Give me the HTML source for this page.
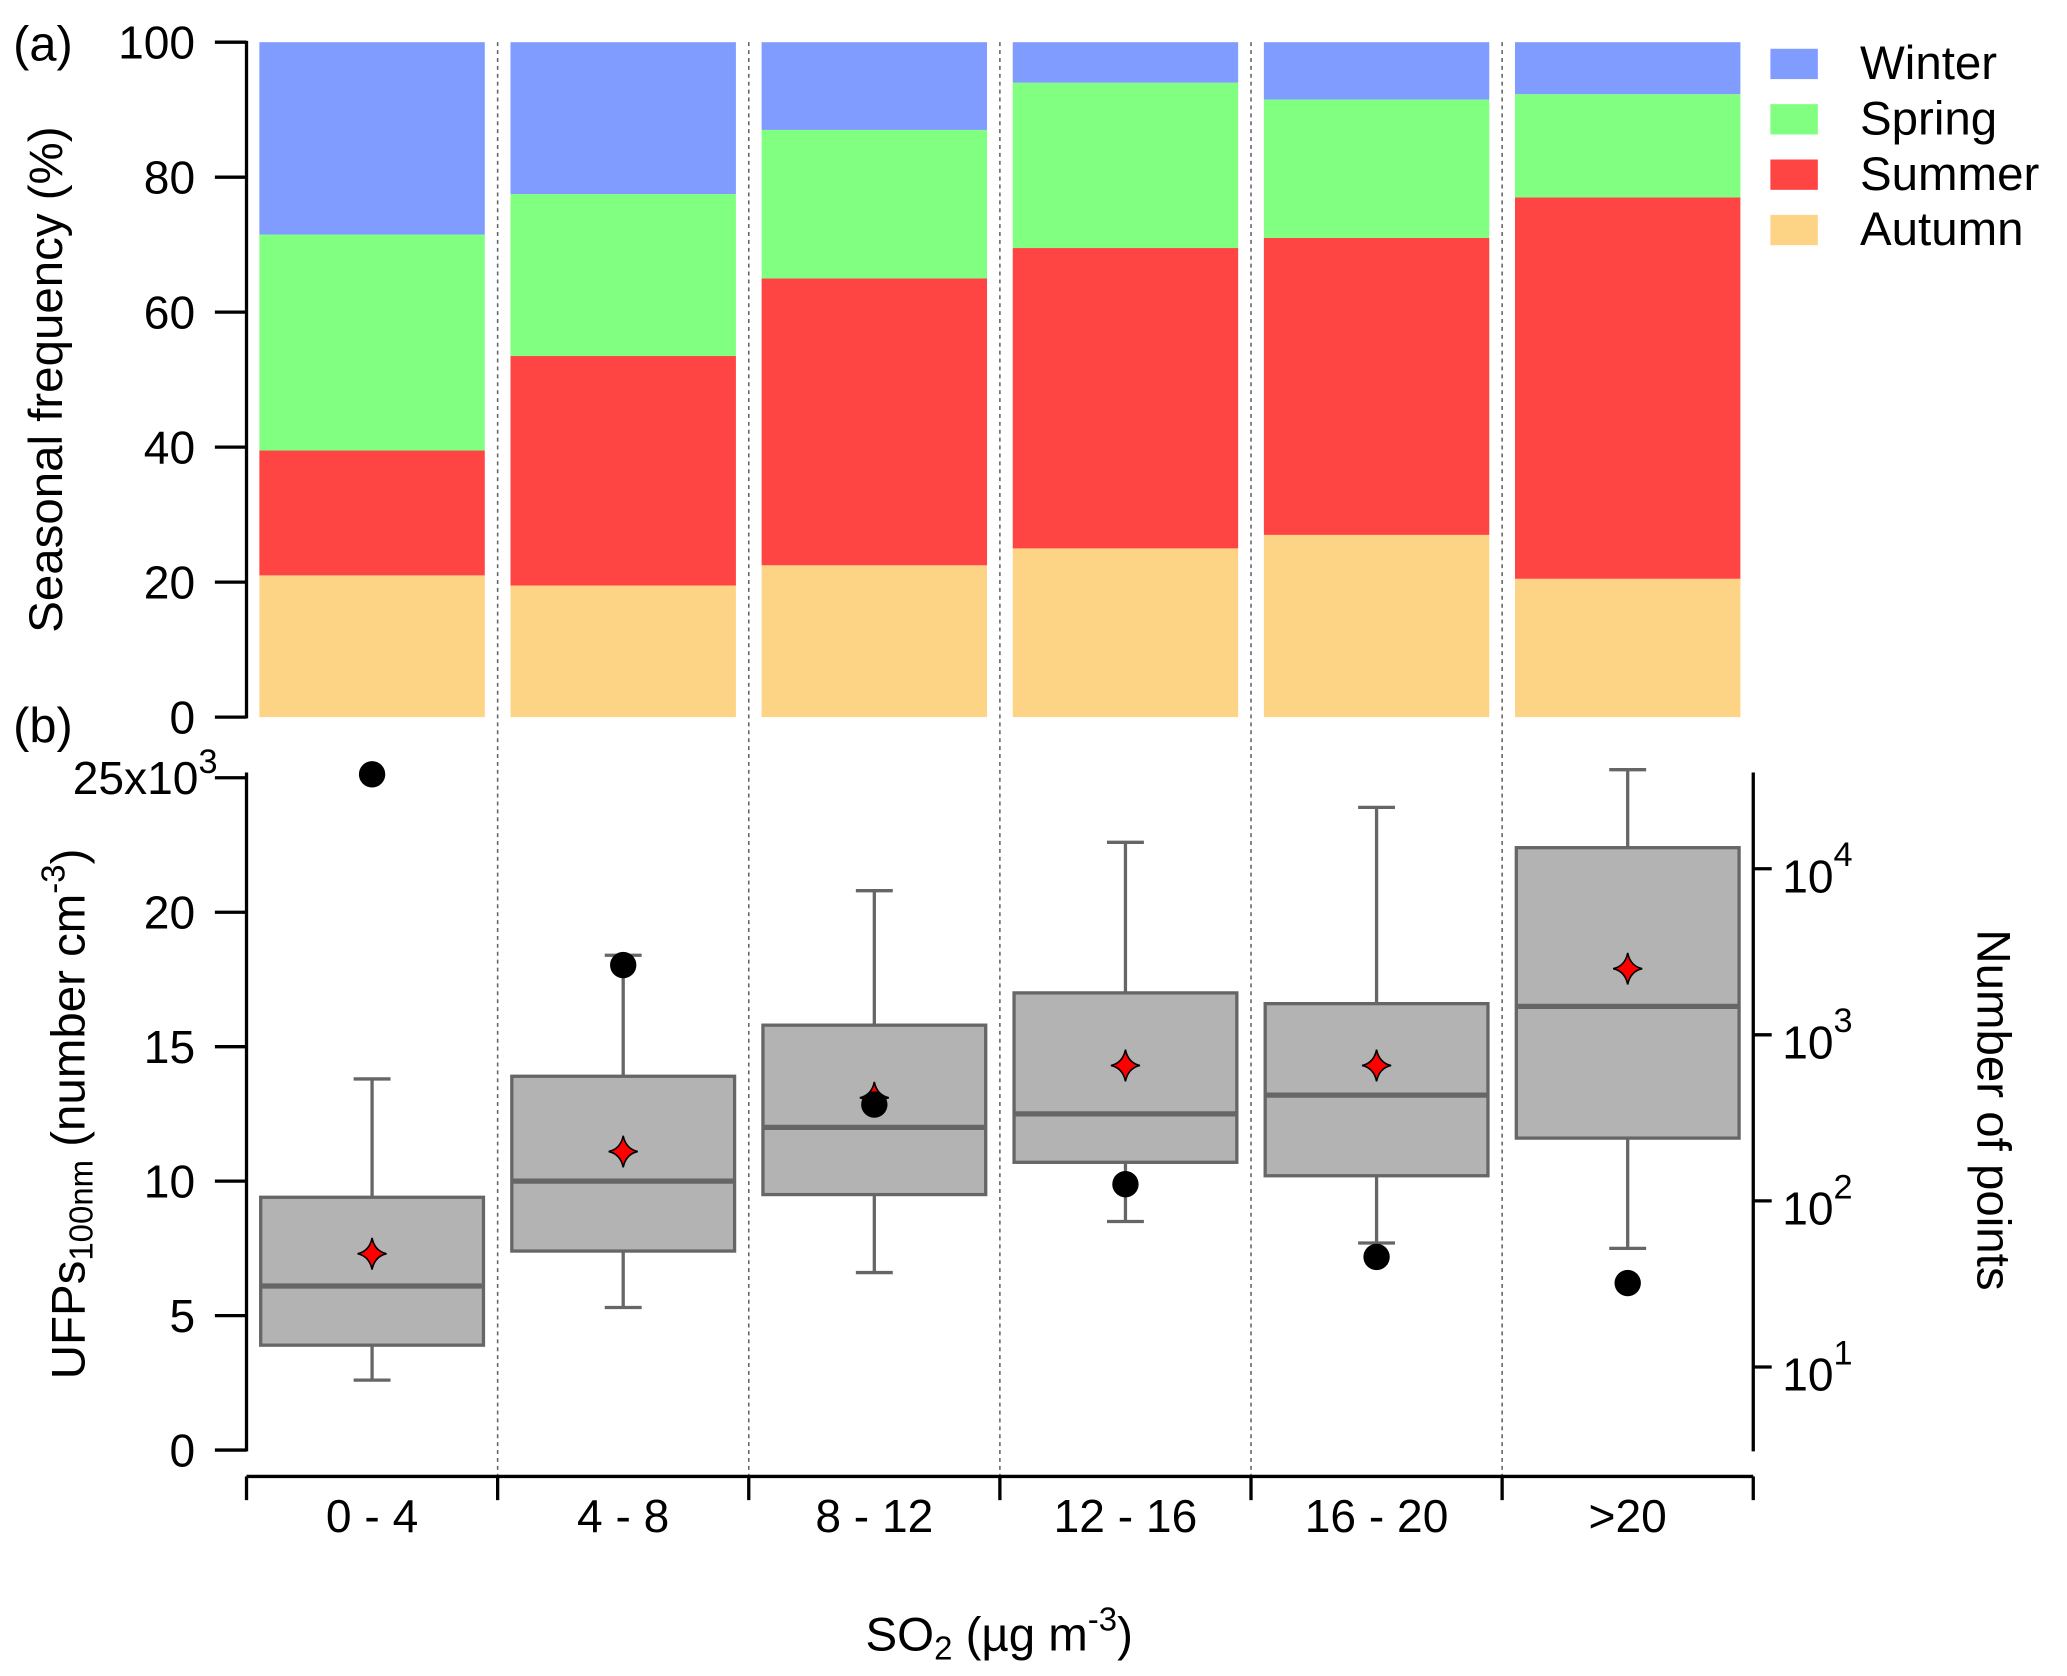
<!DOCTYPE html>
<html><head><meta charset="utf-8"><style>
html,body{margin:0;padding:0;background:#fff;}
svg{display:block;font-family:"Liberation Sans",Arial,sans-serif;}
</style></head><body>
<svg id="c" width="2067" height="1676" viewBox="0 0 1568 1271.4"></svg>
<script>
const categories=["0 - 4","4 - 8","8 - 12","12 - 16","16 - 20",">20"];
const autumn=[21,19.5,22.5,25,27,20.5];
const summer=[18.5,34,42.5,44.5,44,56.5];
const spring=[32,24,22,24.5,20.5,15.3];
const winter=[28.5,22.5,13,6,8.5,7.7];
const seasonNames=["Autumn","Summer","Spring","Winter"];
const seasonColors=["#fdd485","#ff4444","#80ff80","#809cff"];
const whiskLow=[2.6,5.3,6.6,8.5,7.7,7.5];
const q1=[3.9,7.4,9.5,10.7,10.2,11.6];
const median=[6.1,10.0,12.0,12.5,13.2,16.5];
const q3=[9.4,13.9,15.8,17.0,16.6,22.4];
const whiskHigh=[13.8,18.4,20.8,22.6,23.9,25.3];
const means=[7.3,11.1,13.1,14.3,14.3,17.9];
const counts=[37000,2630,380,126,46,32];
const pctTicks=[0,20,40,60,80,100];
const ufpTicks=[0,5,10,15,20,25];
const logTicks=[1,2,3,4];

const NS="http://www.w3.org/2000/svg";
const svg=document.getElementById('c');
function el(t,a,p){const e=document.createElementNS(NS,t);for(const k in a)e.setAttribute(k,a[k]);(p||svg).appendChild(e);return e;}
const X0=187,X1=1330,slot=(X1-X0)/6;
const xc=i=>X0+slot*(i+0.5);
const bw=171;
const FS=35;
const yA=v=>544-v*5.12;
const yB=v=>1100-v*20.4;
const yL=v=>1037-(Math.log10(v)-1)*126;

for(let i=1;i<6;i++){const d=el('line',{x1:X0+slot*i,x2:X0+slot*i,y1:32,y2:1120,stroke:'#666','stroke-width':1.2,'stroke-dasharray':'3,3'});
}

categories.forEach((c,i)=>{let base=0;[autumn,summer,spring,winter].forEach((s,k)=>{const r=el('rect',{x:xc(i)-bw/2,y:yA(base+s[i]),width:bw,height:s[i]*5.12,fill:seasonColors[k]});
base+=s[i];});});

el('line',{x1:X0,x2:X0,y1:31,y2:545,stroke:'#000','stroke-width':2.5});
pctTicks.forEach(t=>{el('line',{x1:X0-24,x2:X0,y1:yA(t),y2:yA(t),stroke:'#000','stroke-width':2.5});
const tx=el('text',{x:X0-39,y:yA(t)+12.5,'font-size':FS,'text-anchor':'end'});tx.textContent=t;});
let t=el('text',{x:47,y:288,'font-size':36,'text-anchor':'middle',transform:'rotate(-90 47 288)'});t.textContent='Seasonal frequency (%)';
t=el('text',{x:10,y:46,'font-size':37});t.textContent='(a)';
t=el('text',{x:10,y:563,'font-size':37});t.textContent='(b)';

["Winter","Spring","Summer","Autumn"].forEach((n,j)=>{const k=3-j;const g=el('g',{});
el('rect',{x:1343,y:37+j*42,width:36,height:23,fill:seasonColors[k]},g);const tt=el('text',{x:1411,y:60+j*42,'font-size':36},g);tt.textContent=n;});

categories.forEach((c,i)=>{const g=el('g',{});
const x=xc(i);
el('line',{x1:x,x2:x,y1:yB(whiskLow[i]),y2:yB(q1[i]),stroke:'#666','stroke-width':2.5},g);
el('line',{x1:x,x2:x,y1:yB(q3[i]),y2:yB(whiskHigh[i]),stroke:'#666','stroke-width':2.5},g);
el('line',{x1:x-14,x2:x+14,y1:yB(whiskLow[i]),y2:yB(whiskLow[i]),stroke:'#666','stroke-width':2.5},g);
el('line',{x1:x-14,x2:x+14,y1:yB(whiskHigh[i]),y2:yB(whiskHigh[i]),stroke:'#666','stroke-width':2.5},g);
el('rect',{x:x-bw/2+1,y:yB(q3[i]),width:bw-2,height:yB(q1[i])-yB(q3[i]),fill:'#b3b3b3',stroke:'#666','stroke-width':2.5},g);
el('line',{x1:x-bw/2+1,x2:x+bw/2-1,y1:yB(median[i]),y2:yB(median[i]),stroke:'#666','stroke-width':4},g);
const my=yB(means[i]);
const m=el('path',{d:`M${x},${my-12} Q${x+2},${my-2} ${x+11},${my} Q${x+2},${my+2} ${x},${my+12} Q${x-2},${my+2} ${x-11},${my} Q${x-2},${my-2} ${x},${my-12}Z`,fill:'#ff0000',stroke:'#000','stroke-width':1.2},g);

const d=el('circle',{cx:x,cy:yL(counts[i]),r:10,fill:'#000'});
});

el('line',{x1:X0,x2:X0,y1:586,y2:1101,stroke:'#000','stroke-width':2.5});
ufpTicks.forEach(v=>{el('line',{x1:X0-24,x2:X0,y1:yB(v),y2:yB(v),stroke:'#000','stroke-width':2.5});
const tx=el('text',{x:X0-39,y:yB(v)+12.5,'font-size':FS,'text-anchor':'end'});
if(v===25){tx.innerHTML='25x10<tspan dy="-16" font-size="26">3</tspan>';tx.setAttribute('x',X0-22);}else tx.textContent=v;
});
t=el('text',{x:64,y:845,'font-size':36,'text-anchor':'middle',transform:'rotate(-90 64 845)'});
t.innerHTML='UFPs<tspan font-size="25" dy="6">100nm</tspan><tspan dy="-6"> (number cm</tspan><tspan font-size="25" dy="-15">-3</tspan><tspan dy="15">)</tspan>';


el('line',{x1:X1,x2:X1,y1:586,y2:1101,stroke:'#000','stroke-width':2.5});
logTicks.forEach(p=>{const y=yL(Math.pow(10,p));el('line',{x1:X1,x2:X1+14,y1:y,y2:y,stroke:'#000','stroke-width':2.5});
const tx=el('text',{x:X1+22,y:y+18,'font-size':FS});tx.innerHTML='10<tspan dy="-20" font-size="26">'+p+'</tspan>';
});
t=el('text',{x:1500,y:842,'font-size':36,'text-anchor':'middle',transform:'rotate(90 1500 842)'});t.textContent='Number of points';

el('line',{x1:X0,x2:X1,y1:1120,y2:1120,stroke:'#000','stroke-width':2.5});
for(let i=0;i<=6;i++)el('line',{x1:X0+slot*i,x2:X0+slot*i,y1:1120,y2:1138,stroke:'#000','stroke-width':2.5});
categories.forEach((c,i)=>{const tx=el('text',{x:xc(i),y:1162,'font-size':FS,'text-anchor':'middle'});tx.textContent=c;});
t=el('text',{x:758,y:1252,'font-size':36,'text-anchor':'middle'});
t.innerHTML='SO<tspan font-size="25" dy="7">2</tspan><tspan dy="-7"> (µg m</tspan><tspan font-size="25" dy="-15">-3</tspan><tspan dy="15">)</tspan>';

</script>
</body></html>
